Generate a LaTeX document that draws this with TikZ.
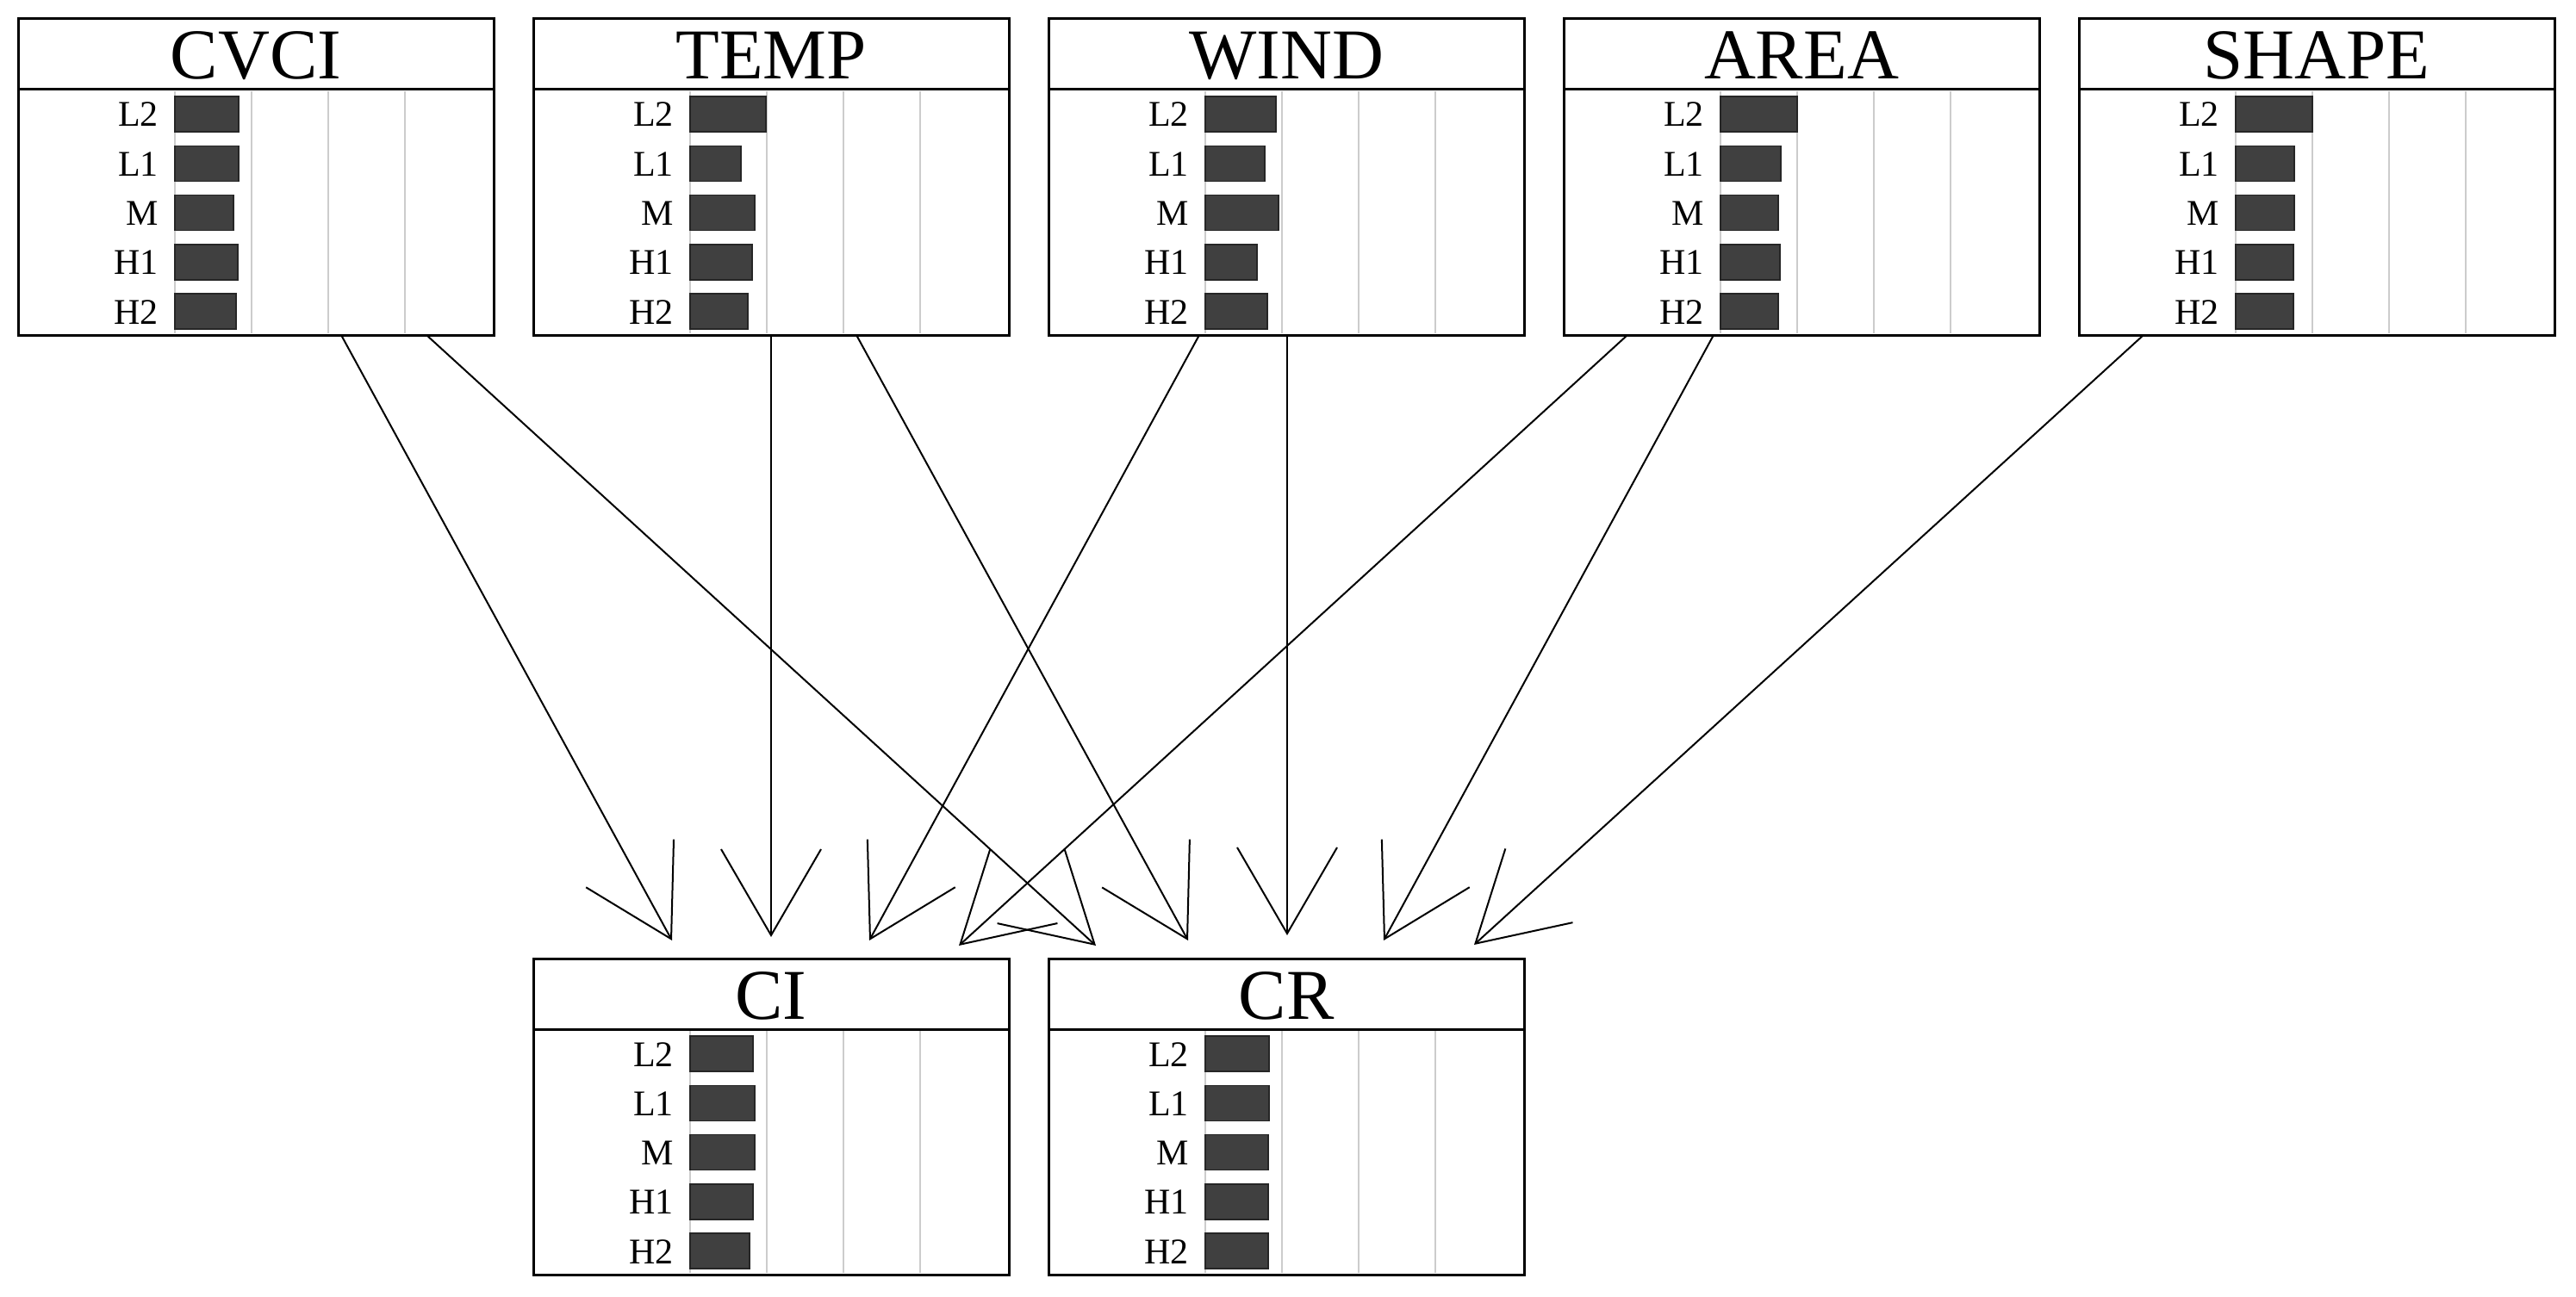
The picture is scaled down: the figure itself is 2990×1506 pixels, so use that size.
\documentclass[tikz,border=0pt]{standalone}
\usepackage{fontspec}
\setmainfont{Liberation Serif}
\usetikzlibrary{arrows.meta,calc}
\definecolor{barfill}{HTML}{404040}
\definecolor{gridgray}{HTML}{CCCCCC}
\tikzset{
 panel/.style={draw=black, line width=3pt, fill=white, minimum width=552pt, minimum height=367pt, anchor=north west, inner sep=0pt, outer sep=0pt},
 divider/.style={draw=black, line width=3pt},
 gridline/.style={draw=gridgray, line width=2pt},
 bar/.style={fill=barfill, draw=black!85, line width=1.5pt},
 ttl/.style={font=\fontsize{83}{90}\selectfont, anchor=base, inner sep=0pt},
 lbl/.style={font=\fontsize{42}{46}\selectfont, anchor=base east, inner sep=0pt},
 link/.style={line width=2pt, -{Straight Barb[length=100pt,width=116pt]}},
}
% #1 name, #2 x, #3 y, #4 title, #5..#9 bar widths
\newcommand\varpanel[9]{%
 \node[panel] (#1) at ({#2},{#3}) {};
 \draw[divider] ({#2},{#3+82}) -- ({#2+552},{#3+82});
 \foreach \g in {182,271,360,449}
   \draw[gridline] ({#2+\g},{#3+84}) -- ({#2+\g},{#3+365});
 \node[ttl] (#1-t) at ({#2+276},{#3+70}) {#4};
 \foreach \w [count=\i from 0] in {#5,#6,#7,#8,#9}
   \draw[bar] ({#2+182},{#3+90+57.3*\i}) rectangle ++(\w,41);
 \foreach \t [count=\i from 0] in {L2,L1,M,H1,H2}
   \node[lbl] (#1-l\i) at ({#2+163},{#3+125+57.3*\i}) {\t};
}
\begin{document}
\begin{tikzpicture}[x=1pt,y=-1pt]
\useasboundingbox (0,0) rectangle (2990,1506);
\varpanel{cvci}{21}{22}{CVCI}{74}{74}{68}{73}{71}
\varpanel{temp}{619}{22}{TEMP}{88}{59}{75}{72}{67}
\varpanel{wind}{1217}{22}{WIND}{82}{69}{85}{60}{72}
\varpanel{area}{1815}{22}{AREA}{89}{70}{67}{69}{67}
\varpanel{shape}{2413}{22}{SHAPE}{89}{68}{68}{67}{67}
\varpanel{ci}{619}{1113}{CI}{73}{75}{75}{73}{69}
\varpanel{cr}{1217}{1113}{CR}{74}{74}{73}{73}{73}

\draw[link] ([xshift=375pt]cvci.south west) -- ([xshift=161pt,yshift=21pt]ci.north west);
\draw[link] ([xshift=474pt]cvci.south west) -- ([xshift=55pt,yshift=15pt]cr.north west);
\draw[link] ([xshift=276pt]temp.south west) -- ([xshift=276pt,yshift=25pt]ci.north west);
\draw[link] ([xshift=375pt]temp.south west) -- ([xshift=162pt,yshift=21pt]cr.north west);
\draw[link] ([xshift=175pt]wind.south west) -- ([xshift=390pt,yshift=21pt]ci.north west);
\draw[link] ([xshift=277pt]wind.south west) -- ([xshift=277pt,yshift=27pt]cr.north west);
\draw[link] ([xshift=74pt]area.south west) -- ([xshift=494pt,yshift=15pt]ci.north west);
\draw[link] ([xshift=174pt]area.south west) -- ([xshift=389pt,yshift=21pt]cr.north west);
\draw[link] ([xshift=75pt]shape.south west) -- ([xshift=494pt,yshift=16pt]cr.north west);
\end{tikzpicture}
\end{document}
